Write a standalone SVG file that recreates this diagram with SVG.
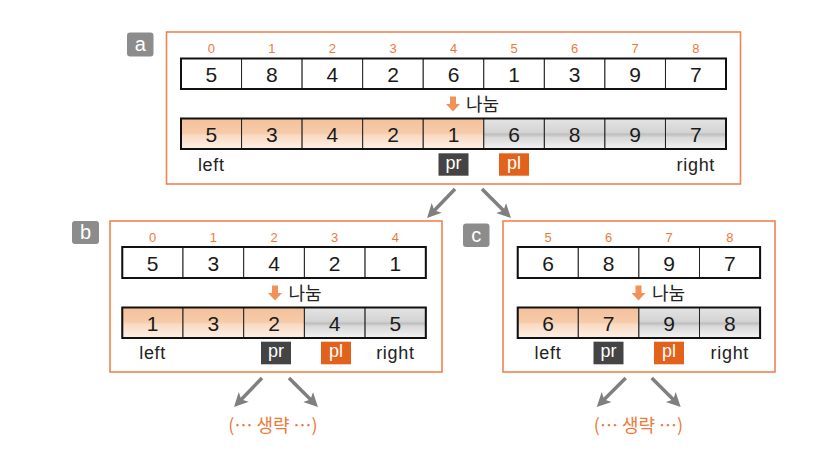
<svg xmlns="http://www.w3.org/2000/svg" width="818" height="452" viewBox="0 0 818 452">
<defs>
<linearGradient id="gO" x1="0" y1="0" x2="0" y2="1">
<stop offset="0" stop-color="#F4C19B"/>
<stop offset="0.48" stop-color="#F6CBA9"/>
<stop offset="0.55" stop-color="#F9DAC2"/>
<stop offset="1" stop-color="#FDF0E6"/>
</linearGradient>
<linearGradient id="gG" x1="0" y1="0" x2="0" y2="1">
<stop offset="0" stop-color="#E4E4E4"/>
<stop offset="0.45" stop-color="#D4D4D4"/>
<stop offset="0.52" stop-color="#BEBEBE"/>
<stop offset="0.62" stop-color="#D9D9D9"/>
<stop offset="1" stop-color="#F3F3F3"/>
</linearGradient>
<marker id="ah" markerUnits="userSpaceOnUse" markerWidth="16" markerHeight="16" refX="6" refY="7" orient="auto" viewBox="0 0 16 14">
<path d="M0,0 L14,7 L0,14 L3.5,7 Z" fill="#7F7F7F"/>
</marker>
<g id="darr"><path d="M-3,-7.5 H3 V0 H7 L0,7.5 L-7,0 H-3 Z" fill="#F0935A"/></g>
</defs>
<style>
.frame{fill:#fff;stroke:#EE8450;stroke-width:1.6}
.tag{fill:#8C8C8C}
.tagt{font-family:"Liberation Sans","Noto Sans",sans-serif;font-size:20px;fill:#fff;text-anchor:middle}
.cw{fill:#fff;stroke:#222;stroke-width:1}
.co{fill:url(#gO);stroke:#222;stroke-width:1}
.cg{fill:url(#gG);stroke:#222;stroke-width:1}
.out{fill:none;stroke:#111;stroke-width:2}
.num{font-family:"Liberation Sans","Noto Sans CJK KR",sans-serif;font-size:21px;fill:#1a1a1a;text-anchor:middle}
.idx{font-family:"Liberation Sans","Noto Sans CJK KR",sans-serif;font-size:13px;fill:#EE7A3A;text-anchor:middle}
.lbl{font-family:"Liberation Sans","Noto Sans CJK KR",sans-serif;font-size:18px;letter-spacing:0.7px;fill:#222;text-anchor:middle}
.kor{font-family:"Noto Sans CJK KR",sans-serif;font-size:18px;fill:#222}
.pr{fill:#444444}
.pl{fill:#E2621C}
.pt{font-family:"Liberation Sans","Noto Sans",sans-serif;font-size:18px;fill:#fff;text-anchor:middle}
.omit{font-family:"Noto Sans CJK SC","Noto Sans CJK KR",sans-serif;font-size:18px;fill:#EE7A3A;text-anchor:middle}
.conn{stroke:#7F7F7F;stroke-width:3.5;fill:none;marker-end:url(#ah)}
</style>

<g id="node-a">
<rect class="frame" x="166.5" y="32" width="574" height="152"/>
<rect class="tag" x="127" y="32.5" width="26.5" height="24" rx="3"/>
<text class="tagt" x="140.3" y="51">a</text>
<g>
<text class="idx" x="211.3" y="53">0</text><text class="idx" x="271.8" y="53">1</text><text class="idx" x="332.4" y="53">2</text><text class="idx" x="393" y="53">3</text><text class="idx" x="453.5" y="53">4</text><text class="idx" x="514.1" y="53">5</text><text class="idx" x="574.7" y="53">6</text><text class="idx" x="635.2" y="53">7</text><text class="idx" x="695.8" y="53">8</text>
</g>
<g>
<rect class="cw" x="181" y="58.5" width="60.56" height="30.5"/><rect class="cw" x="241.56" y="58.5" width="60.56" height="30.5"/><rect class="cw" x="302.12" y="58.5" width="60.56" height="30.5"/><rect class="cw" x="362.68" y="58.5" width="60.56" height="30.5"/><rect class="cw" x="423.24" y="58.5" width="60.56" height="30.5"/><rect class="cw" x="483.8" y="58.5" width="60.56" height="30.5"/><rect class="cw" x="544.36" y="58.5" width="60.56" height="30.5"/><rect class="cw" x="604.92" y="58.5" width="60.56" height="30.5"/><rect class="cw" x="665.48" y="58.5" width="60.56" height="30.5"/>
<rect class="out" x="181" y="58.5" width="545" height="30.5"/>
<text class="num" x="211.3" y="81.5">5</text><text class="num" x="271.8" y="81.5">8</text><text class="num" x="332.4" y="81.5">4</text><text class="num" x="393" y="81.5">2</text><text class="num" x="453.5" y="81.5">6</text><text class="num" x="514.1" y="81.5">1</text><text class="num" x="574.7" y="81.5">3</text><text class="num" x="635.2" y="81.5">9</text><text class="num" x="695.8" y="81.5">7</text>
</g>
<use href="#darr" x="453" y="104"/>
<text class="kor" x="466" y="110.5">나눔</text>
<g>
<rect class="co" x="181" y="118.5" width="60.56" height="30.5"/><rect class="co" x="241.56" y="118.5" width="60.56" height="30.5"/><rect class="co" x="302.12" y="118.5" width="60.56" height="30.5"/><rect class="co" x="362.68" y="118.5" width="60.56" height="30.5"/><rect class="co" x="423.24" y="118.5" width="60.56" height="30.5"/><rect class="cg" x="483.8" y="118.5" width="60.56" height="30.5"/><rect class="cg" x="544.36" y="118.5" width="60.56" height="30.5"/><rect class="cg" x="604.92" y="118.5" width="60.56" height="30.5"/><rect class="cg" x="665.48" y="118.5" width="60.56" height="30.5"/>
<rect class="out" x="181" y="118.5" width="545" height="30.5"/>
<text class="num" x="211.3" y="141.5">5</text><text class="num" x="271.8" y="141.5">3</text><text class="num" x="332.4" y="141.5">4</text><text class="num" x="393" y="141.5">2</text><text class="num" x="453.5" y="141.5">1</text><text class="num" x="514.1" y="141.5">6</text><text class="num" x="574.7" y="141.5">8</text><text class="num" x="635.2" y="141.5">9</text><text class="num" x="695.8" y="141.5">7</text>
</g>
<text class="lbl" x="211.3" y="170.5">left</text>
<rect class="pr" x="438.5" y="153.3" width="30" height="22.4"/><text class="pt" x="453.5" y="168.5">pr</text>
<rect class="pl" x="499" y="153.3" width="30" height="22.4"/><text class="pt" x="514" y="168.5">pl</text>
<text class="lbl" x="695.8" y="170.5">right</text>
</g>

<g id="node-b">
<rect class="frame" x="110" y="221" width="332" height="151"/>
<rect class="tag" x="72" y="221" width="27" height="23" rx="3"/>
<text class="tagt" x="85.5" y="239">b</text>
<text class="idx" x="152.6" y="242">0</text><text class="idx" x="213.3" y="242">1</text><text class="idx" x="274" y="242">2</text><text class="idx" x="334.7" y="242">3</text><text class="idx" x="395.4" y="242">4</text>
<rect class="cw" x="122.3" y="247" width="60.7" height="31"/><rect class="cw" x="183" y="247" width="60.7" height="31"/><rect class="cw" x="243.7" y="247" width="60.7" height="31"/><rect class="cw" x="304.4" y="247" width="60.7" height="31"/><rect class="cw" x="365.1" y="247" width="60.7" height="31"/>
<rect class="out" x="122.3" y="247" width="303.5" height="31"/>
<text class="num" x="152.6" y="270.5">5</text><text class="num" x="213.3" y="270.5">3</text><text class="num" x="274" y="270.5">4</text><text class="num" x="334.7" y="270.5">2</text><text class="num" x="395.4" y="270.5">1</text>
<use href="#darr" x="275" y="293"/>
<text class="kor" x="288.5" y="299.5">나눔</text>
<rect class="co" x="122.3" y="307.5" width="60.7" height="30.5"/><rect class="co" x="183" y="307.5" width="60.7" height="30.5"/><rect class="co" x="243.7" y="307.5" width="60.7" height="30.5"/><rect class="cg" x="304.4" y="307.5" width="60.7" height="30.5"/><rect class="cg" x="365.1" y="307.5" width="60.7" height="30.5"/>
<rect class="out" x="122.3" y="307.5" width="303.5" height="30.5"/>
<text class="num" x="152.6" y="330.5">1</text><text class="num" x="213.3" y="330.5">3</text><text class="num" x="274" y="330.5">2</text><text class="num" x="334.7" y="330.5">4</text><text class="num" x="395.4" y="330.5">5</text>
<text class="lbl" x="152.6" y="359">left</text>
<rect class="pr" x="261" y="341.7" width="30" height="22.6"/><text class="pt" x="276" y="357">pr</text>
<rect class="pl" x="321" y="341.7" width="30" height="22.6"/><text class="pt" x="336" y="357">pl</text>
<text class="lbl" x="395.4" y="359">right</text>
</g>

<g id="node-c">
<rect class="frame" x="503" y="221" width="272" height="151"/>
<rect class="tag" x="463" y="223.5" width="26.5" height="23.5" rx="3"/>
<text class="tagt" x="476.3" y="242">c</text>
<text class="idx" x="548" y="242">5</text><text class="idx" x="608.6" y="242">6</text><text class="idx" x="669.2" y="242">7</text><text class="idx" x="729.8" y="242">8</text>
<rect class="cw" x="517.7" y="247" width="60.6" height="31"/><rect class="cw" x="578.3" y="247" width="60.6" height="31"/><rect class="cw" x="638.9" y="247" width="60.6" height="31"/><rect class="cw" x="699.5" y="247" width="60.6" height="31"/>
<rect class="out" x="517.7" y="247" width="242.4" height="31"/>
<text class="num" x="548" y="270.5">6</text><text class="num" x="608.6" y="270.5">8</text><text class="num" x="669.2" y="270.5">9</text><text class="num" x="729.8" y="270.5">7</text>
<use href="#darr" x="638.5" y="293"/>
<text class="kor" x="652" y="299.5">나눔</text>
<rect class="co" x="517.7" y="307.5" width="60.6" height="30.5"/><rect class="co" x="578.3" y="307.5" width="60.6" height="30.5"/><rect class="cg" x="638.9" y="307.5" width="60.6" height="30.5"/><rect class="cg" x="699.5" y="307.5" width="60.6" height="30.5"/>
<rect class="out" x="517.7" y="307.5" width="242.4" height="30.5"/>
<text class="num" x="548" y="330.5">6</text><text class="num" x="608.6" y="330.5">7</text><text class="num" x="669.2" y="330.5">9</text><text class="num" x="729.8" y="330.5">8</text>
<text class="lbl" x="548" y="359">left</text>
<rect class="pr" x="593.5" y="341.7" width="30" height="22.6"/><text class="pt" x="608.5" y="357">pr</text>
<rect class="pl" x="654" y="341.7" width="30" height="22.6"/><text class="pt" x="669" y="357">pl</text>
<text class="lbl" x="729.8" y="359">right</text>
</g>

<g id="omit-b"><text class="omit" x="273" y="432">(… 생략 …)</text></g>
<g id="omit-c"><text class="omit" x="638.5" y="432">(… 생략 …)</text></g>

<g id="connectors">
<line class="conn" x1="455" y1="189" x2="432.6" y2="212.2"/>
<line class="conn" x1="482" y1="189" x2="505.3" y2="212.3"/>
<line class="conn" x1="262" y1="378" x2="239.6" y2="401.2"/>
<line class="conn" x1="289" y1="378" x2="312.3" y2="401.3"/>
<line class="conn" x1="625.7" y1="378" x2="602.4" y2="401.3"/>
<line class="conn" x1="651.7" y1="378" x2="675" y2="401.3"/>
</g>
</svg>
